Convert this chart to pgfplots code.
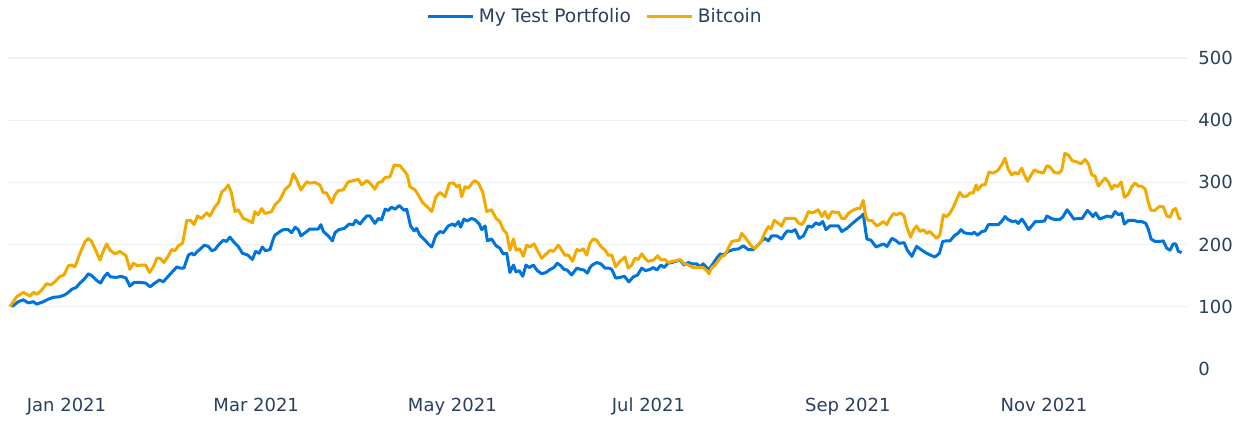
\documentclass[border=0pt]{standalone}
\usepackage{fontspec}
\setmainfont{DejaVu Sans}
\usepackage{pgfplots}
\pgfplotsset{compat=1.18}

\definecolor{txt}{HTML}{2A3F5F}
\definecolor{gridc}{HTML}{EEF0F4}
\definecolor{portblue}{RGB}{0,116,217}
\definecolor{btcgold}{RGB}{242,169,0}

\begin{document}
\fontsize{9}{11}\selectfont
\begin{tikzpicture}
% page = 1244x421 px at 0.5pt per px
\path[use as bounding box] (-4pt,-19.9pt) rectangle (618pt,190.6pt);
\begin{axis}[
    scale only axis,
    width=590pt, height=167.7pt,
    xmin=-18.2, xmax=348.8,
    ymin=-20, ymax=520,
    axis line style={draw=none},
    major tick length=0pt,
    xtick={0,59,120,181,243,304},
    xticklabels={Jan 2021,Mar 2021,May 2021,Jul 2021,Sep 2021,Nov 2021},
    xticklabel style={anchor=base, yshift=-15.4pt, text=txt},
    ytick={100,200,300,400,500},
    extra y ticks={0},
    extra y tick style={grid=none},
    yticklabel pos=right,
    yticklabel style={anchor=west, inner sep=0pt, xshift=5pt, text=txt},
    /pgf/number format/assume math mode=true,
    ymajorgrids,
    grid style={gridc, line width=0.75pt},
    legend columns=2,
    legend style={draw=none, fill=none, at={(0.4985,1.087)}, anchor=center,
        text=txt, font=\fontsize{9.3}{11}\selectfont,
        /tikz/every even column/.append style={column sep=5.5pt}},
    legend image code/.code={\draw[#1] (0pt,0pt) -- (22.5pt,0pt);},
]
\addplot[portblue, line width=1.5pt, line join=round] coordinates {
(-17.0,100)(-15.0,108)(-13.4,111)(-11.9,106)(-10.3,108)(-9.3,104)(-7.2,108)(-5.7,112)
(-4.1,115)(-2.2,116)(-0.5,119)(0.6,123)(1.6,128)(3.0,131)(4.2,138)(5.8,146)(6.8,153)
(8.1,149)(9.4,142)(10.6,138)(11.7,148)(12.7,154)(13.7,148)(15.6,147)(16.9,149)(18.5,146)
(19.7,133)(21.0,139)(22.9,139)(24.6,138)(26.0,132)(27.2,137)(28.9,143)(30.1,140)(31.3,147)
(32.7,155)(34.3,164)(35.3,162)(36.5,162)(37.9,183)(38.9,186)(39.7,183)(40.7,189)(41.2,191)
(42.9,199)(44.1,197)(45.2,190)(46.2,192)(47.2,199)(48.8,207)(49.8,205)(50.8,212)(52.2,203)
(53.4,197)(54.7,186)(56.4,183)(57.8,176)(58.8,189)(59.9,186)(60.9,196)(61.9,190)(63.3,192)
(64.3,209)(64.8,215)(66.4,221)(67.4,224)(69.0,224)(70.0,219)(71.1,228)(72.1,224)(72.9,214)
(74.2,219)(75.7,225)(77.3,225)(78.3,225)(79.1,232)(79.9,221)(81.4,214)(82.7,206)(83.5,219)
(84.7,224)(86.4,226)(87.9,233)(89.2,232)(89.9,239)(91.3,233)(92.3,240)(93.4,246)(94.4,246)
(95.9,234)(97.0,242)(98.0,240)(99.1,257)(100.1,255)(101.1,260)(102.2,257)(103.5,263)
(105.0,255)(105.8,257)(107.0,230)(108.1,222)(108.9,226)(109.9,215)(111.5,207)(112.5,201)
(113.6,196)(114.9,215)(116.2,221)(117.2,219)(118.7,230)(120.1,233)(120.8,230)(121.9,237)
(122.6,228)(123.6,241)(124.6,238)(126.0,242)(127.0,240)(128.4,233)(129.1,224)(130.2,230)
(130.9,206)(132.2,209)(133.6,198)(134.8,194)(135.8,185)(136.9,186)(137.9,155)(139.0,167)
(139.8,156)(140.8,158)(141.9,149)(142.9,167)(143.9,163)(145.2,167)(146.4,158)(147.8,153)
(149.1,155)(150.4,160)(151.6,163)(152.6,170)(153.7,166)(154.7,160)(155.7,159)(157.1,151)
(158.7,162)(159.9,160)(160.9,159)(162.0,154)(162.8,163)(163.5,167)(164.9,171)(166.2,169)
(167.5,162)(168.7,162)(169.6,160)(170.8,146)(172.1,147)(173.5,149)(174.9,140)(176.3,148)
(177.6,151)(178.9,162)(180.1,158)(181.5,160)(182.5,163)(183.6,159)(184.9,167)(185.9,163)
(187.0,170)(188.2,171)(189.5,173)(190.8,175)(192.1,167)(193.4,171)(194.6,169)(196.0,169)
(197.0,164)(198.0,169)(199.1,163)(199.8,160)(201.2,170)(202.2,178)(203.3,185)(204.3,183)
(205.8,189)(207.4,192)(209.0,193)(210.5,198)(212.0,192)(213.6,192)(215.0,199)(216.2,206)
(217.2,210)(218.3,206)(219.3,214)(220.9,214)(222.4,209)(223.5,218)(224.2,222)(225.6,221)
(226.6,224)(227.9,210)(229.2,214)(230.7,230)(231.8,228)(233.1,235)(234.1,232)(235.2,237)
(236.2,224)(237.4,230)(239.0,230)(240.1,230)(241.1,221)(242.7,226)(244.2,233)(245.8,240)
(247.3,246)(247.8,249)(248.9,209)(250.2,207)(251.8,196)(253.1,199)(254.1,201)(255.2,197)
(256.7,210)(257.8,207)(259.0,202)(260.5,203)(261.5,191)(262.9,181)(264.4,197)(266.0,191)
(267.5,186)(269.1,182)(270.1,180)(271.5,186)(272.5,205)(273.8,206)(274.8,206)(276.1,214)
(277.4,219)(278.2,224)(279.2,219)(280.2,218)(281.6,217)(282.3,220)(283.3,215)(284.7,221)
(285.7,222)(286.7,232)(288.3,232)(289.8,232)(290.8,237)(291.9,245)(292.9,240)(294.1,237)
(295.2,238)(296.0,234)(297.1,241)(298.1,234)(299.2,224)(300.2,230)(301.3,237)(302.8,237)
(304.2,238)(304.9,246)(306.3,242)(307.5,240)(308.8,240)(309.8,244)(311.2,256)(312.2,249)
(313.3,241)(314.6,242)(315.9,242)(317.5,255)(318.5,250)(319.2,245)(320.1,251)(321.3,241)
(322.7,244)(323.7,246)(325.1,244)(326.1,253)(327.2,248)(328.2,250)(329.0,233)(330.3,239)
(331.8,239)(333.2,237)(334.4,237)(335.7,234)(336.5,224)(337.3,209)(338.5,205)(340.1,205)
(341.1,206)(342.2,194)(343.2,191)(344.2,201)(345.0,201)(345.8,189)(346.8,187)
};
\addlegendentry{My Test Portfolio}
\addplot[btcgold, line width=1.5pt, line join=round] coordinates {
(-17.6,100)(-15.5,116)(-13.4,123)(-11.4,117)(-10.3,123)(-9.1,120)(-7.7,127)(-6.2,137)
(-4.9,135)(-3.6,140)(-2.2,148)(-0.8,151)(0.6,166)(1.6,167)(2.6,164)(4.2,186)(5.8,205)
(6.8,210)(7.8,205)(9.2,189)(10.4,175)(11.4,189)(12.5,201)(13.5,191)(15.1,185)(16.6,189)
(18.5,182)(19.7,160)(20.8,170)(22.0,166)(23.4,167)(24.6,167)(25.8,155)(27.0,164)(28.1,178)
(29.1,178)(30.3,171)(31.7,182)(32.7,192)(33.7,190)(34.8,198)(36.1,202)(37.4,239)(38.6,239)
(39.7,232)(40.7,246)(42.0,242)(43.6,251)(44.6,246)(46.2,261)(47.2,267)(48.3,285)(49.3,289)
(50.3,296)(51.2,285)(52.4,253)(53.4,256)(55.0,242)(56.5,239)(57.8,235)(58.6,253)(59.6,248)
(60.7,258)(61.7,250)(63.8,253)(64.8,264)(66.4,272)(67.9,288)(69.5,296)(70.5,314)(71.6,304)
(72.9,288)(74.7,301)(75.7,299)(77.3,300)(78.8,296)(79.9,283)(80.9,283)(82.5,267)(83.5,280)
(84.5,287)(86.1,288)(87.6,301)(89.2,303)(90.8,305)(91.8,296)(93.4,303)(94.4,299)(95.9,289)
(97.0,300)(98.0,301)(99.1,308)(100.6,309)(101.9,328)(103.7,327)(105.3,317)(106.0,312)
(106.8,293)(108.4,288)(109.4,280)(110.8,267)(112.2,261)(113.6,253)(114.9,277)(116.2,284)
(117.7,277)(119.1,299)(120.3,299)(121.4,293)(122.2,296)(122.9,277)(123.9,293)(125.0,291)
(126.3,300)(127.0,303)(128.1,299)(129.4,285)(130.7,253)(132.2,256)(133.6,242)(134.8,237)
(135.8,224)(136.9,218)(137.9,191)(139.0,209)(139.8,191)(141.0,193)(142.1,181)(143.1,199)
(144.1,196)(145.4,201)(146.4,191)(147.8,178)(148.8,183)(150.4,191)(151.4,189)(153.0,199)
(154.0,191)(155.0,183)(156.1,183)(157.4,173)(158.7,192)(159.7,190)(160.7,193)(161.8,183)
(162.8,202)(163.8,209)(164.9,207)(166.2,197)(167.5,191)(168.5,183)(169.6,183)(170.8,164)
(172.1,173)(173.7,180)(174.7,162)(175.8,167)(176.8,178)(177.8,176)(178.9,185)(179.9,178)
(180.9,173)(182.5,175)(183.9,182)(184.9,175)(186.1,176)(187.2,171)(188.4,173)(189.8,174)
(190.8,176)(192.1,169)(193.4,167)(194.9,163)(196.5,163)(198.0,163)(199.1,158)(199.8,153)
(200.7,163)(201.7,167)(202.7,174)(203.8,181)(204.8,183)(205.8,194)(206.9,205)(207.9,206)
(209.2,207)(210.0,218)(211.0,212)(212.0,205)(213.1,197)(214.1,194)(215.1,199)(216.2,207)
(217.2,219)(218.3,229)(219.1,225)(220.1,239)(221.2,235)(222.4,230)(223.5,242)(225.0,242)
(226.6,242)(227.6,235)(228.7,232)(229.7,240)(230.7,253)(231.8,251)(232.8,253)(233.8,256)
(234.9,245)(235.9,253)(236.9,242)(238.0,253)(239.0,252)(240.1,252)(241.1,242)(242.1,242)
(243.1,250)(244.5,255)(245.8,258)(246.8,258)(247.8,271)(248.6,245)(249.3,239)(250.4,239)
(252.0,230)(253.0,233)(254.0,237)(255.1,232)(256.1,242)(257.2,250)(258.2,248)(259.4,251)
(260.5,246)(261.3,229)(262.5,212)(263.6,225)(264.4,230)(265.4,221)(266.5,224)(267.5,218)
(268.5,221)(269.6,215)(270.6,210)(271.6,215)(272.7,248)(273.7,245)(274.7,250)(275.8,260)
(276.8,272)(277.8,284)(278.9,277)(280.0,278)(281.0,283)(282.0,283)(282.9,296)(283.4,288)
(284.7,296)(285.7,296)(286.9,317)(288.2,315)(289.6,319)(290.8,328)(291.9,339)(292.9,321)
(294.0,312)(295.0,316)(296.0,314)(297.1,323)(297.9,312)(298.9,302)(300.0,312)(301.0,320)
(302.2,317)(303.8,315)(304.9,327)(305.9,325)(307.2,316)(308.5,315)(309.5,319)(310.5,347)
(311.6,344)(312.8,335)(314.2,333)(315.5,330)(316.8,337)(317.8,330)(318.9,312)(319.9,310)
(320.9,294)(322.0,301)(323.0,307)(324.0,301)(325.1,289)(325.9,296)(326.9,293)(328.0,301)
(329.0,276)(330.1,280)(331.3,293)(332.3,299)(333.4,294)(334.4,294)(335.5,289)(336.4,269)
(337.3,255)(338.5,255)(339.8,261)(341.1,261)(342.2,246)(343.2,244)(344.2,256)(345.0,258)
(346.0,242)(346.8,241)
};
\addlegendentry{Bitcoin}
\end{axis}
\end{tikzpicture}
\end{document}
